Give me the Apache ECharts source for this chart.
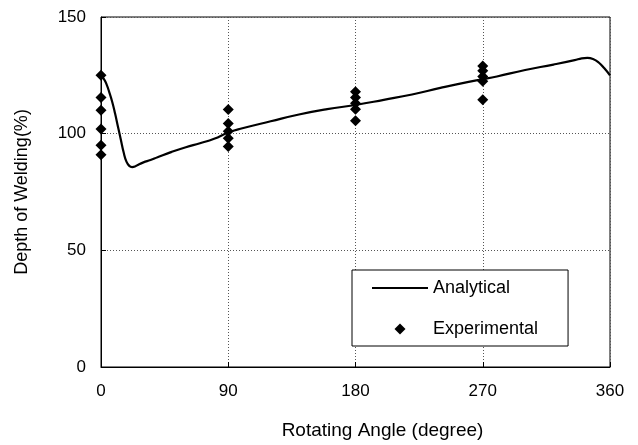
<!DOCTYPE html>
<html><head><meta charset="utf-8">
<script src="https://cdn.jsdelivr.net/npm/echarts@6/dist/echarts.min.js"></script>
<style>html,body{margin:0;padding:0;background:#fff}#c{width:638px;height:445px}</style>
</head><body><div id="c"></div>
<script>
const xTicks = [0, 90, 180, 270, 360];
const yTicks = [0, 50, 100, 150];
const analyticalAngle = [0,2,4,6,8,10,12,14,16,18,20,22,24,26,30,35,40,50,60,70,80,90,100,120,140,160,180,200,220,240,260,270,280,300,320,335,340,344,348,352,356,360];
const analyticalDepth = [124.8,123.5,121,117.5,113.5,108.5,103,97.5,92,88,86.2,85.7,85.9,86.6,87.7,88.7,89.9,92.2,94.2,95.9,97.8,100.5,102.3,105.3,108.2,110.5,112.3,114.5,116.8,119.6,122.2,123.3,124.5,127.3,129.6,131.5,132.3,132.5,132,130.5,128,125];
const expAngle = [0,0,0,0,0,0, 90,90,90,90,90, 180,180,180,180,180, 270,270,270,270,270];
const expDepth = [125,115.5,110,102,95,91, 110.4,104.4,101,98,94.5, 118,115.5,113,110.5,105.5, 129,127,124.5,122.5,114.5];

const font = 'Liberation Sans, Arial, sans-serif';
const chart = echarts.init(document.getElementById('c'));
chart.setOption({
  animation: false,
  backgroundColor: '#fff',
  textStyle: { fontFamily: font, color: '#000' },
  grid: { left: 101, top: 17, right: 28, bottom: 75, show: true, borderColor: '#000', borderWidth: 1 },
  legend: {
    orient: 'vertical', left: 352, top: 270,
    backgroundColor: '#fff', borderColor: '#000', borderWidth: 1,
    padding: [9, 30, 8, 20],
    itemWidth: 56, itemHeight: 11, itemGap: 23,
    textStyle: { fontFamily: font, fontSize: 18, color: '#000' },
    data: [
      { name: 'Analytical', icon: 'path://M0,0 L56,0 L56,2 L0,2 Z' },
      { name: 'Experimental', icon: 'path://M5,0 L10,5 L5,10 L0,5 Z' }
    ]
  },
  xAxis: {
    type: 'value', min: 0, max: 360, interval: 90,
    name: 'Rotating Angle (degree)', nameLocation: 'middle', nameGap: 54,
    nameTextStyle: { fontFamily: font, fontSize: 19, color: '#000', padding: [0, 0, 0, 54] },
    axisLine: { show: true, lineStyle: { color: '#000', width: 1 } },
    axisTick: { show: true, inside: true, length: 5, lineStyle: { color: '#000' } },
    axisLabel: { margin: 16, fontFamily: font, fontSize: 17, color: '#000',
      formatter: v => xTicks.includes(v) ? String(v) : '' },
    splitLine: { show: true, lineStyle: { color: '#555', type: [1, 2], width: 1 } }
  },
  yAxis: {
    type: 'value', min: 0, max: 150, interval: 50,
    name: 'Depth of Welding(%)', nameLocation: 'middle', nameGap: 70,
    nameTextStyle: { fontFamily: font, fontSize: 18, color: '#000' },
    axisLine: { show: true, lineStyle: { color: '#000', width: 1 } },
    axisTick: { show: true, inside: true, length: 5, lineStyle: { color: '#000' } },
    axisLabel: { margin: 15, fontFamily: font, fontSize: 17, color: '#000',
      formatter: v => yTicks.includes(v) ? String(v) : '' },
    splitLine: { show: true, lineStyle: { color: '#555', type: [1, 2], width: 1 } }
  },
  series: [
    {
      name: 'Analytical', type: 'line', smooth: true, symbol: 'none',
      lineStyle: { color: '#000', width: 2.2 }, itemStyle: { color: '#000' },
      data: analyticalAngle.map((a, i) => [a, analyticalDepth[i]]), z: 3
    },
    {
      name: 'Experimental', type: 'scatter', symbol: 'diamond', symbolSize: 11,
      itemStyle: { color: '#000', opacity: 1 },
      data: expAngle.map((a, i) => [a, expDepth[i]]), z: 4
    }
  ]
});
</script></body></html>
